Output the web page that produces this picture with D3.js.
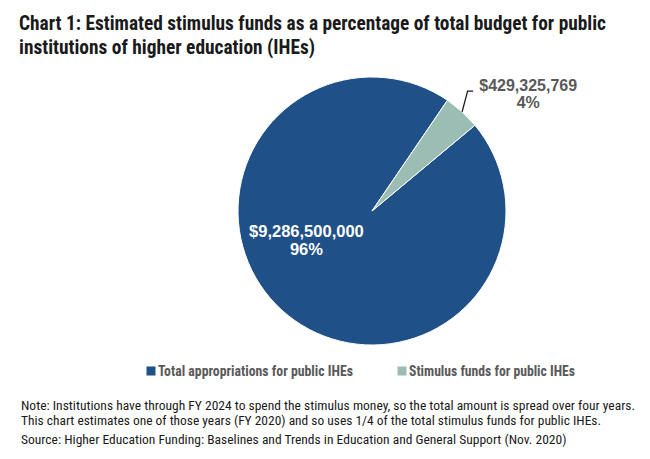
<!DOCTYPE html>
<html><head><meta charset="utf-8">
<script src="https://cdn.jsdelivr.net/npm/d3@7"></script>
<style>
body{margin:0;background:#fff;}
svg{display:block;}
</style></head>
<body>
<svg id="chart" width="650" height="459"></svg>
<script>
const titleLines = ["Chart 1: Estimated stimulus funds as a percentage of total budget for public",
                    "institutions of higher education (IHEs)"];
const categories = ["Total appropriations for public IHEs", "Stimulus funds for public IHEs"];
const values = [9286500000, 429325769];
const colors = ["#1f5088", "#9bbdb3"];
const noteLines = ["Note: Institutions have through FY 2024 to spend the stimulus money, so the total amount is spread over four years.",
                   "This chart estimates one of those years (FY 2020) and so uses 1/4 of the total stimulus funds for public IHEs.",
                   "Source: Higher Education Funding: Baselines and Trends in Education and General Support (Nov. 2020)"];

const svg = d3.select("#chart");
const condensed = "'Liberation Sans Narrow','Arial Narrow','Roboto Condensed','DejaVu Sans Condensed',sans-serif";
const sans = "'Liberation Sans',Arial,sans-serif";

function fitText(sel, w){
  sel.attr("textLength", w).attr("lengthAdjust", "spacingAndGlyphs");
}

// Title
const titleWidths = [587, 296];
const titleY = [29.5, 54];
titleLines.forEach((t,i)=>{
  svg.append("text").attr("x",19).attr("y",titleY[i])
    .attr("font-family",condensed).attr("font-weight","bold").attr("font-size",20.5)
    .attr("fill","#1a1a1a").text(t).call(fitText, titleWidths[i]);
});

// Pie
const cx = 372, cy = 211, r = 134;
const start = 50.2*Math.PI/180;
const pie = d3.pie().sort(null).startAngle(start).endAngle(start+2*Math.PI);
const arcs = pie(values);
const arc = d3.arc().innerRadius(0).outerRadius(r);
const g = svg.append("g").attr("transform",`translate(${cx},${cy})`);
g.selectAll("path").data(arcs).join("path")
  .attr("d",arc).attr("fill",(d,i)=>colors[i])
  .attr("stroke","#fff").attr("stroke-width",1);

const total = d3.sum(values);
const fmtD = d3.format("$,");
const pct = v => Math.round(v/total*100) + "%";

// Inside label (big slice)
const big = arcs[0];
const a = big.startAngle + (big.endAngle-big.startAngle)*0.56;
const inPos = d3.arc().innerRadius(r*0.55).outerRadius(r*0.55).centroid({startAngle:a, endAngle:a});
const inLbl = g.append("text").attr("text-anchor","middle")
  .attr("font-family",sans).attr("font-weight","bold").attr("font-size",16.5).attr("fill","#fff");
inLbl.append("tspan").attr("x",inPos[0]).attr("y",inPos[1]-7.5).text(fmtD(values[0]));
inLbl.append("tspan").attr("x",inPos[0]).attr("y",inPos[1]+10).text(pct(values[0]));

// Outside label (small slice) with leader
const sm = arcs[1];
const mid = (sm.startAngle+sm.endAngle)/2;
const p0 = [Math.sin(mid)*r, -Math.cos(mid)*r];
const p1 = [p0[0]+5.5, p0[1]-20.7];
const p2 = [p1[0]+5.6, p1[1]];
g.append("path").attr("d",d3.line()([p0,p1,p2]))
  .attr("fill","none").attr("stroke","#1a1a1a").attr("stroke-width",1.3);
const outX = p2[0]+55, outY = p2[1];
const outLbl = g.append("text").attr("text-anchor","middle")
  .attr("font-family",sans).attr("font-weight","bold").attr("font-size",16).attr("fill","#595959");
outLbl.append("tspan").attr("x",outX).attr("y",outY).text(fmtD(values[1]));
outLbl.append("tspan").attr("x",outX).attr("y",outY+17).text(pct(values[1]));

// Legend
const legX = [146.5, 397.5];
const legW = [195, 166];
categories.forEach((c,i)=>{
  svg.append("rect").attr("x",legX[i]).attr("y",366.5).attr("width",9).attr("height",9).attr("fill",colors[i]);
  svg.append("text").attr("x",legX[i]+11.5).attr("y",375.5)
    .attr("font-family",condensed).attr("font-weight","bold").attr("font-size",14)
    .attr("fill","#595959").text(c).call(fitText, legW[i]);
});

// Notes
const noteY = [409.5, 425, 443.5];
const noteW = [614, 580, 545.5];
noteLines.forEach((t,i)=>{
  svg.append("text").attr("x",21).attr("y",noteY[i])
    .attr("font-family",condensed).attr("font-size",12.5)
    .attr("fill","#1a1a1a").text(t).call(fitText, noteW[i]);
});
</script>
</body></html>
